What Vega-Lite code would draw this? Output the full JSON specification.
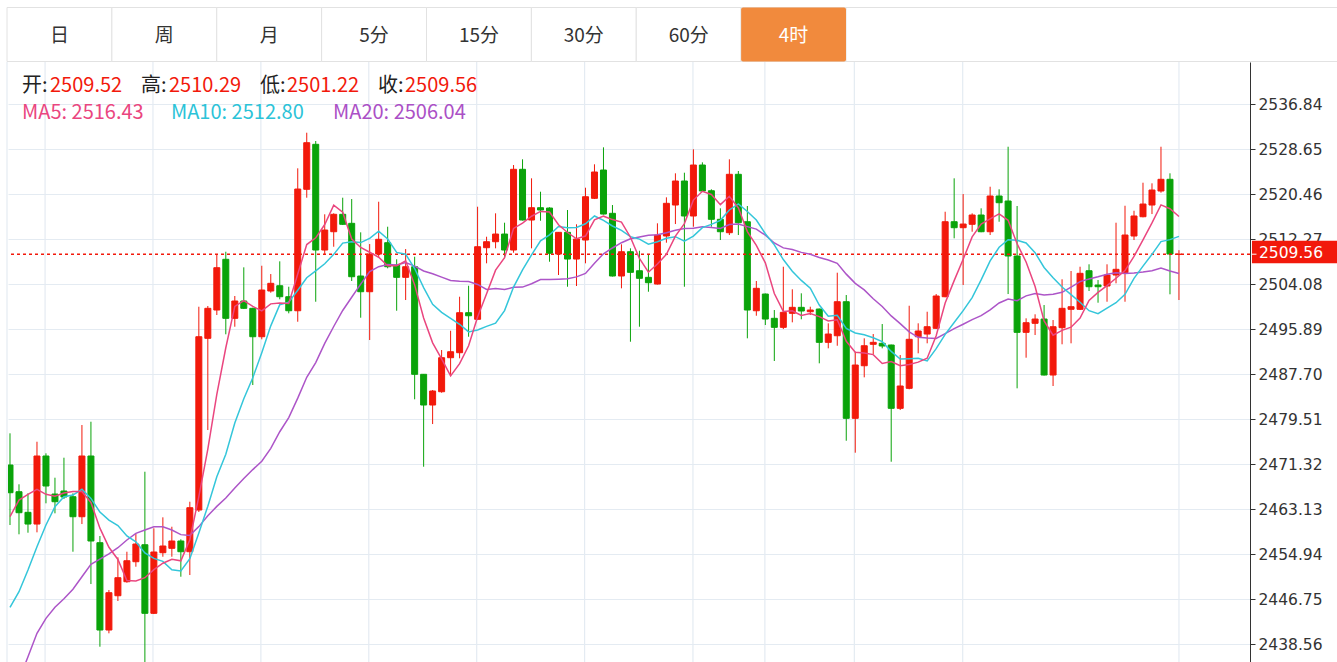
{
"$schema": "https://vega.github.io/schema/vega-lite/v6.json",
"width": 1242,
"height": 600,
"autosize": {"type": "none"},
"padding": {"left": 8, "top": 62, "right": 87, "bottom": 0},
"background": "#ffffff",
"config": {"view": {"stroke": null}},
"datasets": {
"k": [
{"i":0,"o":2471.19,"h":2476.96,"l":2460.27,"c":2466.15,"m5":2461.78,"m10":2445.29,"m20":2427.9},
{"i":1,"o":2466.33,"h":2467.68,"l":2458.58,"c":2462.51,"m5":2464.82,"m10":2448.13,"m20":2432.06},
{"i":2,"o":2462.58,"h":2466.04,"l":2458.87,"c":2460.45,"m5":2465.86,"m10":2452.08,"m20":2436.30},
{"i":3,"o":2460.45,"h":2475.43,"l":2458.94,"c":2472.83,"m5":2466.77,"m10":2456.32,"m20":2440.56},
{"i":4,"o":2472.83,"h":2473.32,"l":2464.22,"c":2467.37,"m5":2465.86,"m10":2460.27,"m20":2443.29},
{"i":5,"o":2465.91,"h":2468.88,"l":2462.40,"c":2464.51,"m5":2465.53,"m10":2463.60,"m20":2445.29},
{"i":6,"o":2466.46,"h":2472.52,"l":2465.00,"c":2465.37,"m5":2466.11,"m10":2465.42,"m20":2446.86},
{"i":7,"o":2465.42,"h":2466.04,"l":2455.41,"c":2461.78,"m5":2466.37,"m10":2465.73,"m20":2448.57},
{"i":8,"o":2461.78,"h":2478.47,"l":2460.45,"c":2472.83,"m5":2466.37,"m10":2466.77,"m20":2450.86},
{"i":9,"o":2472.83,"h":2479.07,"l":2449.53,"c":2457.36,"m5":2464.37,"m10":2465.12,"m20":2453.12},
{"i":10,"o":2457.05,"h":2458.27,"l":2438.12,"c":2441.16,"m5":2459.70,"m10":2462.62,"m20":2454.08},
{"i":11,"o":2441.16,"h":2448.44,"l":2440.56,"c":2447.95,"m5":2456.22,"m10":2461.16,"m20":2455.00},
{"i":12,"o":2447.40,"h":2454.39,"l":2446.44,"c":2450.68,"m5":2454.00,"m10":2460.18,"m20":2456.14},
{"i":13,"o":2449.95,"h":2455.41,"l":2449.77,"c":2453.77,"m5":2450.18,"m10":2458.28,"m20":2457.54},
{"i":14,"o":2453.59,"h":2458.63,"l":2452.68,"c":2456.81,"m5":2450.07,"m10":2457.22,"m20":2458.76},
{"i":15,"o":2456.68,"h":2469.97,"l":2434.97,"c":2444.20,"m5":2450.68,"m10":2455.19,"m20":2459.36},
{"i":16,"o":2444.20,"h":2459.67,"l":2444.07,"c":2455.36,"m5":2452.16,"m10":2454.19,"m20":2459.96},
{"i":17,"o":2455.23,"h":2461.67,"l":2454.50,"c":2456.45,"m5":2453.32,"m10":2453.66,"m20":2459.96},
{"i":18,"o":2456.03,"h":2459.96,"l":2454.50,"c":2457.36,"m5":2454.04,"m10":2452.11,"m20":2459.36},
{"i":19,"o":2457.36,"h":2457.67,"l":2450.86,"c":2455.41,"m5":2453.76,"m10":2451.91,"m20":2458.52},
{"i":20,"o":2455.41,"h":2464.51,"l":2451.17,"c":2463.42,"m5":2457.60,"m10":2454.14,"m20":2458.38},
{"i":21,"o":2463.00,"h":2500.00,"l":2462.64,"c":2494.54,"m5":2465.44,"m10":2458.80,"m20":2459.98},
{"i":22,"o":2494.25,"h":2500.13,"l":2477.56,"c":2499.71,"m5":2474.09,"m10":2463.70,"m20":2461.94},
{"i":23,"o":2499.40,"h":2509.59,"l":2498.49,"c":2507.10,"m5":2484.04,"m10":2469.04,"m20":2463.66},
{"i":24,"o":2508.63,"h":2510.01,"l":2494.98,"c":2497.89,"m5":2492.53,"m10":2473.14,"m20":2465.18},
{"i":25,"o":2497.89,"h":2501.95,"l":2496.36,"c":2501.04,"m5":2500.06,"m10":2478.83,"m20":2467.01},
{"i":26,"o":2501.04,"h":2507.17,"l":2499.58,"c":2499.71,"m5":2501.09,"m10":2483.26,"m20":2468.73},
{"i":27,"o":2499.71,"h":2499.82,"l":2485.75,"c":2494.54,"m5":2500.06,"m10":2487.07,"m20":2470.36},
{"i":28,"o":2494.54,"h":2507.46,"l":2494.07,"c":2503.04,"m5":2499.24,"m10":2491.64,"m20":2471.87},
{"i":29,"o":2502.86,"h":2505.95,"l":2502.55,"c":2504.26,"m5":2500.52,"m10":2496.52,"m20":2474.22},
{"i":30,"o":2503.82,"h":2508.26,"l":2501.35,"c":2501.82,"m5":2500.67,"m10":2500.37,"m20":2477.25},
{"i":31,"o":2501.82,"h":2503.64,"l":2498.80,"c":2499.27,"m5":2500.59,"m10":2500.84,"m20":2479.82},
{"i":32,"o":2499.27,"h":2525.19,"l":2497.27,"c":2521.42,"m5":2505.96,"m10":2503.01,"m20":2483.36},
{"i":33,"o":2521.37,"h":2531.67,"l":2519.84,"c":2529.85,"m5":2511.32,"m10":2505.28,"m20":2487.16},
{"i":34,"o":2529.56,"h":2530.16,"l":2500.91,"c":2510.32,"m5":2512.54,"m10":2506.53,"m20":2489.84},
{"i":35,"o":2510.32,"h":2516.82,"l":2509.41,"c":2513.96,"m5":2514.96,"m10":2507.82,"m20":2493.32},
{"i":36,"o":2513.65,"h":2517.00,"l":2510.92,"c":2516.82,"m5":2518.47,"m10":2509.53,"m20":2496.40},
{"i":37,"o":2516.82,"h":2519.84,"l":2514.87,"c":2515.00,"m5":2517.19,"m10":2511.58,"m20":2499.32},
{"i":38,"o":2515.18,"h":2519.60,"l":2504.68,"c":2505.46,"m5":2512.31,"m10":2511.82,"m20":2501.73},
{"i":39,"o":2505.59,"h":2513.54,"l":2498.00,"c":2502.73,"m5":2510.79,"m10":2511.67,"m20":2504.10},
{"i":40,"o":2502.73,"h":2511.41,"l":2493.94,"c":2509.59,"m5":2509.92,"m10":2512.44,"m20":2506.40},
{"i":41,"o":2509.59,"h":2519.11,"l":2509.05,"c":2512.27,"m5":2509.01,"m10":2513.74,"m20":2507.29},
{"i":42,"o":2511.65,"h":2514.56,"l":2506.99,"c":2507.28,"m5":2507.47,"m10":2512.33,"m20":2507.67},
{"i":43,"o":2507.59,"h":2508.63,"l":2499.27,"c":2505.35,"m5":2507.44,"m10":2509.88,"m20":2507.58},
{"i":44,"o":2505.35,"h":2510.50,"l":2501.22,"c":2507.28,"m5":2508.35,"m10":2509.57,"m20":2508.05},
{"i":45,"o":2507.28,"h":2509.10,"l":2483.15,"c":2487.70,"m5":2503.98,"m10":2506.95,"m20":2507.38},
{"i":46,"o":2487.70,"h":2487.75,"l":2470.88,"c":2482.11,"m5":2497.94,"m10":2503.48,"m20":2506.50},
{"i":47,"o":2482.11,"h":2484.84,"l":2478.65,"c":2484.66,"m5":2493.42,"m10":2500.44,"m20":2506.01},
{"i":48,"o":2484.53,"h":2492.12,"l":2484.35,"c":2490.72,"m5":2490.49,"m10":2498.97,"m20":2505.39},
{"i":49,"o":2490.72,"h":2495.63,"l":2487.57,"c":2491.81,"m5":2487.40,"m10":2497.88,"m20":2504.77},
{"i":50,"o":2491.63,"h":2501.82,"l":2490.61,"c":2498.91,"m5":2489.64,"m10":2496.81,"m20":2504.63},
{"i":51,"o":2498.91,"h":2503.82,"l":2494.54,"c":2498.36,"m5":2492.89,"m10":2495.42,"m20":2504.58},
{"i":52,"o":2497.71,"h":2518.20,"l":2497.58,"c":2510.92,"m5":2498.14,"m10":2495.78,"m20":2504.06},
{"i":53,"o":2510.74,"h":2512.74,"l":2507.90,"c":2511.83,"m5":2502.37,"m10":2496.43,"m20":2503.15},
{"i":54,"o":2511.83,"h":2517.00,"l":2510.63,"c":2513.23,"m5":2506.65,"m10":2497.02,"m20":2503.30},
{"i":55,"o":2513.23,"h":2515.29,"l":2508.81,"c":2510.32,"m5":2508.93,"m10":2499.29,"m20":2503.12},
{"i":56,"o":2510.32,"h":2525.79,"l":2509.83,"c":2525.01,"m5":2514.26,"m10":2503.58,"m20":2503.53},
{"i":57,"o":2525.01,"h":2526.83,"l":2515.69,"c":2515.78,"m5":2515.23,"m10":2506.69,"m20":2503.57},
{"i":58,"o":2515.78,"h":2523.37,"l":2510.63,"c":2518.02,"m5":2516.47,"m10":2509.42,"m20":2504.19},
{"i":59,"o":2518.02,"h":2520.93,"l":2515.65,"c":2517.60,"m5":2517.35,"m10":2512.00,"m20":2504.94},
{"i":60,"o":2517.96,"h":2518.10,"l":2508.19,"c":2509.72,"m5":2517.23,"m10":2513.08,"m20":2504.94},
{"i":61,"o":2509.59,"h":2513.60,"l":2505.77,"c":2513.54,"m5":2514.93,"m10":2514.60,"m20":2505.01},
{"i":62,"o":2513.54,"h":2517.60,"l":2503.64,"c":2508.68,"m5":2513.51,"m10":2514.37,"m20":2505.08},
{"i":63,"o":2508.68,"h":2515.00,"l":2503.77,"c":2512.32,"m5":2512.37,"m10":2514.42,"m20":2505.43},
{"i":64,"o":2512.14,"h":2521.66,"l":2507.90,"c":2520.02,"m5":2512.86,"m10":2515.10,"m20":2506.06},
{"i":65,"o":2519.73,"h":2525.92,"l":2519.60,"c":2524.52,"m5":2515.82,"m10":2516.52,"m20":2507.90},
{"i":66,"o":2524.88,"h":2529.01,"l":2516.78,"c":2516.87,"m5":2516.48,"m10":2515.71,"m20":2509.64},
{"i":67,"o":2517.00,"h":2518.51,"l":2505.50,"c":2505.59,"m5":2515.86,"m10":2514.69,"m20":2510.69},
{"i":68,"o":2505.59,"h":2511.36,"l":2503.35,"c":2510.01,"m5":2515.40,"m10":2513.89,"m20":2511.65},
{"i":69,"o":2510.01,"h":2510.63,"l":2493.63,"c":2506.26,"m5":2512.65,"m10":2512.75,"m20":2512.38},
{"i":70,"o":2506.55,"h":2510.19,"l":2496.36,"c":2505.17,"m5":2508.78,"m10":2512.30,"m20":2512.69},
{"i":71,"o":2505.35,"h":2509.41,"l":2502.73,"c":2504.37,"m5":2506.28,"m10":2511.38,"m20":2512.99},
{"i":72,"o":2504.13,"h":2515.18,"l":2504.04,"c":2513.05,"m5":2507.77,"m10":2511.82,"m20":2513.10},
{"i":73,"o":2512.87,"h":2519.91,"l":2511.65,"c":2518.82,"m5":2509.53,"m10":2512.47,"m20":2513.45},
{"i":74,"o":2518.51,"h":2524.28,"l":2515.05,"c":2522.88,"m5":2512.86,"m10":2512.75,"m20":2513.93},
{"i":75,"o":2522.88,"h":2524.39,"l":2503.64,"c":2516.51,"m5":2515.13,"m10":2511.95,"m20":2514.24},
{"i":76,"o":2516.51,"h":2528.65,"l":2514.56,"c":2525.79,"m5":2519.41,"m10":2512.85,"m20":2514.28},
{"i":77,"o":2525.79,"h":2526.28,"l":2520.97,"c":2521.06,"m5":2521.01,"m10":2514.39,"m20":2514.54},
{"i":78,"o":2521.11,"h":2521.37,"l":2514.56,"c":2515.91,"m5":2520.43,"m10":2514.98,"m20":2514.43},
{"i":79,"o":2515.91,"h":2517.91,"l":2512.14,"c":2513.65,"m5":2518.58,"m10":2515.72,"m20":2514.24},
{"i":80,"o":2513.47,"h":2526.83,"l":2513.05,"c":2524.10,"m5":2520.10,"m10":2517.61,"m20":2514.96},
{"i":81,"o":2524.10,"h":2524.70,"l":2513.05,"c":2515.29,"m5":2518.00,"m10":2518.71,"m20":2515.04},
{"i":82,"o":2515.47,"h":2518.33,"l":2494.25,"c":2499.40,"m5":2513.67,"m10":2517.34,"m20":2514.58},
{"i":83,"o":2499.27,"h":2504.68,"l":2498.36,"c":2503.35,"m5":2511.16,"m10":2515.79,"m20":2514.13},
{"i":84,"o":2502.31,"h":2502.40,"l":2496.67,"c":2497.76,"m5":2507.98,"m10":2513.28,"m20":2513.02},
{"i":85,"o":2497.89,"h":2499.40,"l":2490.12,"c":2496.25,"m5":2502.41,"m10":2511.26,"m20":2511.60},
{"i":86,"o":2496.25,"h":2507.28,"l":2495.94,"c":2498.98,"m5":2499.15,"m10":2508.58,"m20":2510.71},
{"i":87,"o":2498.80,"h":2503.17,"l":2497.16,"c":2499.89,"m5":2499.25,"m10":2506.46,"m20":2510.43},
{"i":88,"o":2499.89,"h":2502.44,"l":2497.71,"c":2499.22,"m5":2498.42,"m10":2504.79,"m20":2509.89},
{"i":89,"o":2499.09,"h":2500.00,"l":2498.49,"c":2499.40,"m5":2498.75,"m10":2503.36,"m20":2509.54},
{"i":90,"o":2499.58,"h":2499.66,"l":2489.70,"c":2493.52,"m5":2498.20,"m10":2500.31,"m20":2508.96},
{"i":91,"o":2493.52,"h":2496.98,"l":2492.43,"c":2495.03,"m5":2497.41,"m10":2498.28,"m20":2508.49},
{"i":92,"o":2494.72,"h":2506.19,"l":2492.90,"c":2500.91,"m5":2497.62,"m10":2498.43,"m20":2507.89},
{"i":93,"o":2500.91,"h":2502.13,"l":2475.61,"c":2479.69,"m5":2493.71,"m10":2496.06,"m20":2505.93},
{"i":94,"o":2479.69,"h":2491.81,"l":2473.43,"c":2489.39,"m5":2491.71,"m10":2495.23,"m20":2504.26},
{"i":95,"o":2489.26,"h":2494.25,"l":2487.15,"c":2492.90,"m5":2491.58,"m10":2494.89,"m20":2503.07},
{"i":96,"o":2493.16,"h":2495.03,"l":2491.39,"c":2493.52,"m5":2491.28,"m10":2494.35,"m20":2501.46},
{"i":97,"o":2493.34,"h":2496.85,"l":2492.43,"c":2492.85,"m5":2489.67,"m10":2493.64,"m20":2500.05},
{"i":98,"o":2493.03,"h":2493.10,"l":2471.79,"c":2481.51,"m5":2490.03,"m10":2491.87,"m20":2498.33},
{"i":99,"o":2481.51,"h":2491.21,"l":2481.20,"c":2485.57,"m5":2489.27,"m10":2490.49,"m20":2496.93},
{"i":100,"o":2485.15,"h":2500.18,"l":2484.97,"c":2494.07,"m5":2489.50,"m10":2490.54,"m20":2495.42},
{"i":101,"o":2494.54,"h":2496.98,"l":2491.52,"c":2495.58,"m5":2489.92,"m10":2490.60,"m20":2494.44},
{"i":102,"o":2495.03,"h":2499.09,"l":2493.34,"c":2496.36,"m5":2490.62,"m10":2490.14,"m20":2494.29},
{"i":103,"o":2496.07,"h":2502.31,"l":2495.94,"c":2501.95,"m5":2494.71,"m10":2492.37,"m20":2494.22},
{"i":104,"o":2501.82,"h":2517.29,"l":2501.73,"c":2515.47,"m5":2500.69,"m10":2494.98,"m20":2495.10},
{"i":105,"o":2515.47,"h":2523.37,"l":2512.45,"c":2514.38,"m5":2504.75,"m10":2497.13,"m20":2496.01},
{"i":106,"o":2514.38,"h":2520.51,"l":2503.95,"c":2515.05,"m5":2508.64,"m10":2499.28,"m20":2496.81},
{"i":107,"o":2515.00,"h":2517.00,"l":2513.65,"c":2516.69,"m5":2512.71,"m10":2501.66,"m20":2497.65},
{"i":108,"o":2516.69,"h":2517.91,"l":2513.56,"c":2513.65,"m5":2515.05,"m10":2504.88,"m20":2498.37},
{"i":109,"o":2513.65,"h":2521.84,"l":2513.05,"c":2520.15,"m5":2515.98,"m10":2508.34,"m20":2499.41},
{"i":110,"o":2520.15,"h":2521.37,"l":2515.47,"c":2518.93,"m5":2516.89,"m10":2510.82,"m20":2500.68},
{"i":111,"o":2519.24,"h":2529.12,"l":2502.31,"c":2509.23,"m5":2515.73,"m10":2512.19,"m20":2501.39},
{"i":112,"o":2509.23,"h":2518.33,"l":2485.15,"c":2495.34,"m5":2511.46,"m10":2512.08,"m20":2501.11},
{"i":113,"o":2495.34,"h":2497.89,"l":2490.72,"c":2497.09,"m5":2508.15,"m10":2511.60,"m20":2501.98},
{"i":114,"o":2496.98,"h":2498.62,"l":2494.85,"c":2497.76,"m5":2503.67,"m10":2509.83,"m20":2502.40},
{"i":115,"o":2497.76,"h":2500.31,"l":2487.48,"c":2487.57,"m5":2497.40,"m10":2507.15,"m20":2502.14},
{"i":116,"o":2487.57,"h":2497.58,"l":2485.57,"c":2496.36,"m5":2494.82,"m10":2505.28,"m20":2502.28},
{"i":117,"o":2496.18,"h":2504.99,"l":2493.16,"c":2499.71,"m5":2495.70,"m10":2503.58,"m20":2502.62},
{"i":118,"o":2499.53,"h":2506.50,"l":2493.34,"c":2500.00,"m5":2496.28,"m10":2502.21,"m20":2503.55},
{"i":119,"o":2499.53,"h":2507.28,"l":2499.40,"c":2506.08,"m5":2497.94,"m10":2500.81,"m20":2504.57},
{"i":120,"o":2506.55,"h":2507.72,"l":2502.86,"c":2503.64,"m5":2501.16,"m10":2499.28,"m20":2505.05},
{"i":121,"o":2503.95,"h":2504.86,"l":2500.73,"c":2503.64,"m5":2502.61,"m10":2498.72,"m20":2505.45},
{"i":122,"o":2503.77,"h":2507.72,"l":2500.91,"c":2505.77,"m5":2503.83,"m10":2499.76,"m20":2505.92},
{"i":123,"o":2505.77,"h":2515.29,"l":2504.26,"c":2506.81,"m5":2505.19,"m10":2500.73,"m20":2506.17},
{"i":124,"o":2506.19,"h":2518.38,"l":2500.91,"c":2513.05,"m5":2506.58,"m10":2502.26,"m20":2506.05},
{"i":125,"o":2512.87,"h":2517.47,"l":2512.14,"c":2516.51,"m5":2509.16,"m10":2505.16,"m20":2506.15},
{"i":126,"o":2516.38,"h":2522.57,"l":2516.27,"c":2518.69,"m5":2512.17,"m10":2507.39,"m20":2506.33},
{"i":127,"o":2518.51,"h":2522.46,"l":2516.87,"c":2521.24,"m5":2515.26,"m10":2509.54,"m20":2506.56},
{"i":128,"o":2521.06,"h":2529.12,"l":2520.75,"c":2523.19,"m5":2518.54,"m10":2511.86,"m20":2507.04},
{"i":129,"o":2523.19,"h":2524.28,"l":2502.26,"c":2509.59,"m5":2517.84,"m10":2512.21,"m20":2506.51},
{"i":130,"o":2509.52,"h":2510.29,"l":2501.22,"c":2509.56,"m5":2516.43,"m10":2512.80,"m20":2506.04}
],
"vgrid": [{"i":3.9},{"i":15.9},{"i":27.9},{"i":39.9},{"i":51.9},{"i":63.9},{"i":75.95},{"i":83.95},{"i":93.9},{"i":105.95},{"i":130}],
"tabs": [{"label":"日"},{"label":"周"},{"label":"月"},{"label":"5分"},{"label":"15分"},{"label":"30分"},{"label":"60分"},{"label":"4时"}]
},
"resolve": {"scale": {"x": "independent"}},
"layer": [
{
"layer": [
{"data": {"name": "vgrid"}, "mark": {"type": "rule", "stroke": "#e4ebf2", "strokeWidth": 1.2},
 "encoding": {"x": {"field": "i", "type": "quantitative", "scale": {"domain": [-0.2224, 137.9], "nice": false, "zero": false, "padding": 0}, "axis": null}}},
{"data": {"values": [{}]}, "mark": {"type": "rule", "stroke": "#e4ebf2", "strokeWidth": 1.2},
 "encoding": {"x": {"datum": -0.334, "type": "quantitative", "scale": {"domain": [-0.2224, 137.9], "nice": false, "zero": false, "padding": 0}, "axis": null}}},
{"data": {"name": "k"}, "mark": {"type": "rule", "strokeWidth": 1, "clip": true},
 "encoding": {
  "x": {"field": "i", "type": "quantitative", "scale": {"domain": [-0.2224, 137.9], "nice": false, "zero": false, "padding": 0}, "axis": null},
  "y": {"field": "l", "type": "quantitative", "scale": {"domain": [2435.34, 2544.54], "nice": false, "zero": false, "padding": 0},
        "axis": {"orient": "right", "values": [2438.56, 2446.75, 2454.94, 2463.13, 2471.32, 2479.51, 2487.70, 2495.89, 2504.08, 2512.27, 2520.46, 2528.65, 2536.84],
                 "format": ".2f", "title": null, "grid": true, "gridColor": "#e4ebf2", "gridWidth": 1.2,
                 "domain": true, "domainColor": "#333333", "domainWidth": 1, "ticks": true, "tickColor": "#333333", "tickSize": 5, "tickWidth": 1,
                 "labelFont": "DejaVu Sans", "labelFontSize": 15.5, "labelColor": "#333333", "labelPadding": 3, "labelOverlap": false, "labelFlush": false}},
  "y2": {"field": "h"},
  "stroke": {"condition": {"test": "datum.c >= datum.o", "value": "#f2190b"}, "value": "#0aa30a"}
 }},
{"data": {"name": "k"}, "mark": {"type": "bar", "width": 6, "strokeWidth": 1, "clip": true},
 "encoding": {
  "x": {"field": "i", "type": "quantitative", "scale": {"domain": [-0.2224, 137.9], "nice": false, "zero": false, "padding": 0}, "axis": null},
  "y": {"field": "o", "type": "quantitative", "scale": {"domain": [2435.34, 2544.54], "nice": false, "zero": false, "padding": 0}},
  "y2": {"field": "c"},
  "fill": {"condition": {"test": "datum.c >= datum.o", "value": "#f2190b"}, "value": "#0aa30a"},
  "stroke": {"condition": {"test": "datum.c >= datum.o", "value": "#f2190b"}, "value": "#0aa30a"}
 }},
{"data": {"name": "k"}, "transform": [{"filter": "datum.i === 130"}],
 "mark": {"type": "rule", "stroke": "#f2190b", "strokeWidth": 1.5, "strokeDash": [3, 3]},
 "encoding": {"y": {"field": "c", "type": "quantitative", "scale": {"domain": [2435.34, 2544.54], "nice": false, "zero": false, "padding": 0}}}},
{"data": {"name": "k"}, "mark": {"type": "line", "stroke": "#ad55c8", "strokeWidth": 1.5, "clip": true},
 "encoding": {
  "x": {"field": "i", "type": "quantitative", "scale": {"domain": [-0.2224, 137.9], "nice": false, "zero": false, "padding": 0}, "axis": null},
  "y": {"field": "m20", "type": "quantitative", "scale": {"domain": [2435.34, 2544.54], "nice": false, "zero": false, "padding": 0}}}},
{"data": {"name": "k"}, "mark": {"type": "line", "stroke": "#34c6da", "strokeWidth": 1.5, "clip": true},
 "encoding": {
  "x": {"field": "i", "type": "quantitative", "scale": {"domain": [-0.2224, 137.9], "nice": false, "zero": false, "padding": 0}, "axis": null},
  "y": {"field": "m10", "type": "quantitative", "scale": {"domain": [2435.34, 2544.54], "nice": false, "zero": false, "padding": 0}}}},
{"data": {"name": "k"}, "mark": {"type": "line", "stroke": "#ea467f", "strokeWidth": 1.5, "clip": true},
 "encoding": {
  "x": {"field": "i", "type": "quantitative", "scale": {"domain": [-0.2224, 137.9], "nice": false, "zero": false, "padding": 0}, "axis": null},
  "y": {"field": "m5", "type": "quantitative", "scale": {"domain": [2435.34, 2544.54], "nice": false, "zero": false, "padding": 0}}}},
{"data": {"values": [{}]}, "mark": {"type": "rect", "fill": "#f2190b"},
 "encoding": {
  "x": {"datum": 138.12, "type": "quantitative", "scale": {"domain": [-0.2224, 137.9], "nice": false, "zero": false, "padding": 0}, "axis": null},
  "x2": {"datum": 148.5},
  "y": {"datum": 2512.0, "type": "quantitative", "scale": {"domain": [2435.34, 2544.54], "nice": false, "zero": false, "padding": 0}},
  "y2": {"datum": 2507.9}}},
{"data": {"values": [{}]}, "mark": {"type": "rule", "stroke": "#ffffff", "strokeWidth": 1},
 "encoding": {
  "x": {"datum": 138.12, "type": "quantitative", "scale": {"domain": [-0.2224, 137.9], "nice": false, "zero": false, "padding": 0}, "axis": null},
  "x2": {"datum": 138.62},
  "y": {"datum": 2509.56, "type": "quantitative", "scale": {"domain": [2435.34, 2544.54], "nice": false, "zero": false, "padding": 0}}}},
{"data": {"name": "k"}, "transform": [{"filter": "datum.i === 130"}],
 "mark": {"type": "text", "font": "DejaVu Sans", "fontSize": 15.5, "fill": "#ffffff", "align": "left", "baseline": "middle", "dy": -1},
 "encoding": {
  "text": {"field": "c", "type": "quantitative", "format": ".2f"},
  "x": {"datum": 138.9, "type": "quantitative", "scale": {"domain": [-0.2224, 137.9], "nice": false, "zero": false, "padding": 0}, "axis": null},
  "y": {"field": "c", "type": "quantitative", "scale": {"domain": [2435.34, 2544.54], "nice": false, "zero": false, "padding": 0}}}},
{"data": {"values": [{}]}, "mark": {"type": "rule", "stroke": "#e2e2e2", "strokeWidth": 1},
 "encoding": {
  "x": {"datum": -0.334, "type": "quantitative", "scale": {"domain": [-0.2224, 137.9], "nice": false, "zero": false, "padding": 0}, "axis": null},
  "x2": {"datum": 148.5},
  "y": {"datum": 2554.46, "type": "quantitative", "scale": {"domain": [2435.34, 2544.54], "nice": false, "zero": false, "padding": 0}}}},
{"data": {"values": [{}]}, "mark": {"type": "rule", "stroke": "#e2e2e2", "strokeWidth": 1},
 "encoding": {
  "x": {"datum": -0.334, "type": "quantitative", "scale": {"domain": [-0.2224, 137.9], "nice": false, "zero": false, "padding": 0}, "axis": null},
  "x2": {"datum": 148.5},
  "y": {"datum": 2544.63, "type": "quantitative", "scale": {"domain": [2435.34, 2544.54], "nice": false, "zero": false, "padding": 0}}}},
{"data": {"values": [{"t": "开:", "i": 1.334}, {"t": "高:", "i": 14.57}, {"t": "低:", "i": 27.8}, {"t": "收:", "i": 40.93}]},
 "mark": {"type": "text", "font": "Noto Sans CJK SC", "fontSize": 20, "fill": "#222222", "align": "left", "baseline": "middle"},
 "encoding": {
  "text": {"field": "t"},
  "x": {"field": "i", "type": "quantitative", "scale": {"domain": [-0.2224, 137.9], "nice": false, "zero": false, "padding": 0}, "axis": null},
  "y": {"datum": 2540.2, "type": "quantitative", "scale": {"domain": [2435.34, 2544.54], "nice": false, "zero": false, "padding": 0}}}},
{"data": {"values": [{"t": "2509.52", "i": 4.45}, {"t": "2510.29", "i": 17.68}, {"t": "2501.22", "i": 30.8}, {"t": "2509.56", "i": 43.93}]},
 "mark": {"type": "text", "font": "Noto Sans CJK SC", "fontSize": 20, "fill": "#f2190b", "align": "left", "baseline": "middle"},
 "encoding": {
  "text": {"field": "t"},
  "x": {"field": "i", "type": "quantitative", "scale": {"domain": [-0.2224, 137.9], "nice": false, "zero": false, "padding": 0}, "axis": null},
  "y": {"datum": 2540.2, "type": "quantitative", "scale": {"domain": [2435.34, 2544.54], "nice": false, "zero": false, "padding": 0}}}},
{"data": {"values": [{"t": "MA5: 2516.43", "i": 1.334, "s": "MA5"}, {"t": "MA10: 2512.80", "i": 17.9, "s": "MA10"}, {"t": "MA20: 2506.04", "i": 35.92, "s": "MA20"}]},
 "mark": {"type": "text", "font": "Noto Sans CJK SC", "fontSize": 20, "align": "left", "baseline": "middle"},
 "encoding": {
  "text": {"field": "t"},
  "x": {"field": "i", "type": "quantitative", "scale": {"domain": [-0.2224, 137.9], "nice": false, "zero": false, "padding": 0}, "axis": null},
  "y": {"datum": 2535.3, "type": "quantitative", "scale": {"domain": [2435.34, 2544.54], "nice": false, "zero": false, "padding": 0}},
  "fill": {"field": "s", "type": "nominal", "scale": {"domain": ["MA5", "MA10", "MA20"], "range": ["#ea467f", "#2cc3d8", "#ab50c6"]}, "legend": null}}}
]
},
{
"data": {"name": "tabs"},
"encoding": {"x": {"field": "label", "type": "nominal", "sort": null,
  "scale": {"domain": ["日", "周", "月", "5分", "15分", "30分", "60分", "4时"], "range": [-1, 838], "paddingInner": 0, "paddingOuter": 0}, "axis": null}},
"layer": [
{"mark": {"type": "rect", "fill": "#ffffff", "stroke": "#e2e2e2", "strokeWidth": 1},
 "encoding": {"y": {"datum": 2554.46, "type": "quantitative", "scale": {"domain": [2435.34, 2544.54], "nice": false, "zero": false, "padding": 0}}, "y2": {"datum": 2544.63}}},
{"transform": [{"filter": "datum.label === '4时'"}],
 "mark": {"type": "rect", "fill": "#f18a3d", "cornerRadius": 2},
 "encoding": {"y": {"datum": 2554.46, "type": "quantitative", "scale": {"domain": [2435.34, 2544.54], "nice": false, "zero": false, "padding": 0}}, "y2": {"datum": 2544.63}}},
{"mark": {"type": "text", "font": "Noto Sans CJK SC", "fontSize": 19, "align": "center", "baseline": "middle"},
 "encoding": {
  "text": {"field": "label"},
  "y": {"datum": 2549.3, "type": "quantitative", "scale": {"domain": [2435.34, 2544.54], "nice": false, "zero": false, "padding": 0}},
  "fill": {"condition": {"test": "datum.label === '4时'", "value": "#ffffff"}, "value": "#333333"}}}
]
}
]
}
